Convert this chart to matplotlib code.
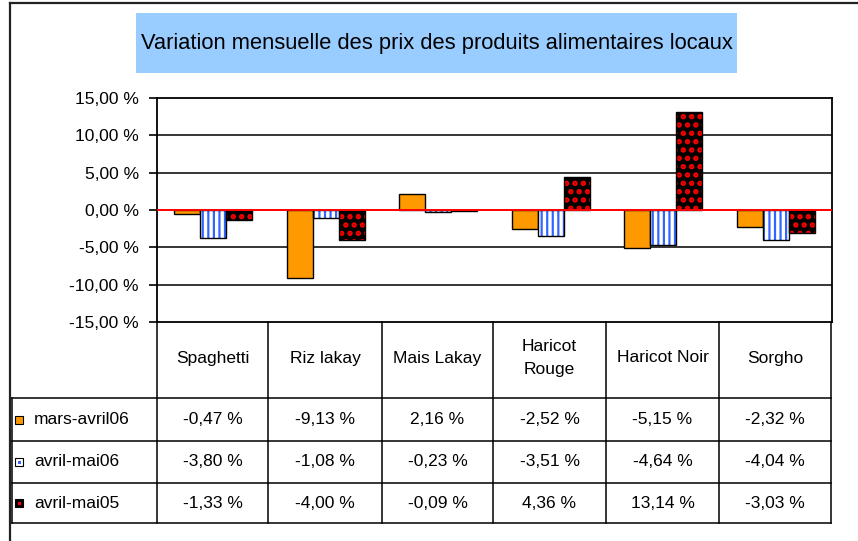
import numpy as np
import matplotlib
matplotlib.use("Agg")
import matplotlib.pyplot as plt
from matplotlib.patches import Rectangle

title = "Variation mensuelle des prix des produits alimentaires locaux"
categories = ["Spaghetti", "Riz lakay", "Mais Lakay", "Haricot\nRouge", "Haricot Noir", "Sorgho"]
series_names = ["mars-avril06", "avril-mai06", "avril-mai05"]
mars_avril06 = [-0.47, -9.13, 2.16, -2.52, -5.15, -2.32]
avril_mai06 = [-3.80, -1.08, -0.23, -3.51, -4.64, -4.04]
avril_mai05 = [-1.33, -4.00, -0.09, 4.36, 13.14, -3.03]
y_ticks = [-15, -10, -5, 0, 5, 10, 15]


def fmt(v):
    return f"{v:.2f}".replace('.', ',') + " %"


W, H = 858, 541
plt.rcParams['font.family'] = ['Liberation Sans', 'DejaVu Sans']
plt.rcParams['hatch.linewidth'] = 1.6

fig = plt.figure(figsize=(W / 100, H / 100), dpi=100)
fig.patch.set_facecolor('white')

# plot area in pixels
PL, PR, PT, PB = 157, 832, 98, 322
ax = fig.add_axes([PL / W, 1 - PB / H, (PR - PL) / W, (PB - PT) / H])
ax.set_xlim(-0.5, len(categories) - 0.5)
ax.set_ylim(-15, 15)
for y in y_ticks[1:-1]:
    if y != 0:
        ax.axhline(y, color='black', lw=1.1, zorder=0.5)
ax.axhline(0, color='red', lw=1.4, zorder=3)

x = np.arange(len(categories))
bw = 0.23
ax.bar(x - bw, mars_avril06, bw, color='#FF9900', edgecolor='black', lw=1, zorder=2)
ax.bar(x, avril_mai06, bw, color='white', edgecolor='#3366FF', hatch='|||', lw=0, zorder=2)
ax.bar(x, avril_mai06, bw, fill=False, edgecolor='black', lw=1, zorder=2.1)
with plt.rc_context({'hatch.linewidth': 2.6}):
    ax.bar(x + bw, avril_mai05, bw, color='black', edgecolor='red', hatch='..', lw=0, zorder=2)
ax.bar(x + bw, avril_mai05, bw, fill=False, edgecolor='black', lw=1, zorder=2.1)

ax.set_xticks([])
ax.set_yticks(y_ticks)
ax.set_yticklabels([fmt(v) for v in y_ticks])
ax.tick_params(axis='y', length=6, width=1.2, pad=7, labelsize=12.5, colors='black')
for s in ax.spines.values():
    s.set_linewidth(1.3)
    s.set_color('black')

# overlay in pixel coordinates
ov = fig.add_axes([0, 0, 1, 1])
ov.set_xlim(0, W)
ov.set_ylim(H, 0)
ov.axis('off')
ov.patch.set_alpha(0)

# outer chart frame
ov.plot([10, 10], [3, H], color='#222222', lw=1.6)
ov.plot([10, W], [3, 3], color='#222222', lw=1.6)

# title box
ov.add_patch(Rectangle((136, 13), 601, 60, facecolor='#99CCFF', edgecolor='none'))
t = ov.text(437, 44, title, ha='center', va='center', fontsize=13)
r = fig.canvas.get_renderer()
wdt = t.get_window_extent(r).width
t.set_fontsize(13 * 592 / wdt)

# data table
col_x = [157, 268, 382, 493, 606, 719, 831]
row_y = [322, 398, 441, 483, 523]
for yy in row_y[1:]:
    ov.plot([12, col_x[-1]], [yy, yy], color='black', lw=1.1)
for xx in col_x:
    ov.plot([xx, xx], [row_y[0], row_y[-1]], color='black', lw=1.1)
ov.plot([12, 12], [row_y[1], row_y[-1]], color='black', lw=1.1)

fs = 12.5
for i, c in enumerate(categories):
    cx = (col_x[i] + col_x[i + 1]) / 2
    ov.text(cx, (row_y[0] + row_y[1]) / 2 - 2, c, ha='center', va='center',
            fontsize=fs, linespacing=1.6)

series_vals = [mars_avril06, avril_mai06, avril_mai05]
key_face = ['#FF9900', 'white', 'black']
key_inner = [None, '#3366FF', 'red']
for j, (name, vals) in enumerate(zip(series_names, series_vals)):
    cy = (row_y[j + 1] + row_y[j + 2]) / 2
    ov.add_patch(Rectangle((15, cy - 4), 8, 8, facecolor=key_face[j], edgecolor='black', lw=0.8))
    if key_inner[j]:
        ov.add_patch(Rectangle((17.5, cy - 1.5), 3, 3, facecolor=key_inner[j], edgecolor='none'))
    ov.text(34, cy, name, ha='left', va='center', fontsize=fs)
    for i, v in enumerate(vals):
        cx = (col_x[i] + col_x[i + 1]) / 2
        ov.text(cx, cy, fmt(v), ha='center', va='center', fontsize=fs)

fig.savefig("out.png", dpi=100)
